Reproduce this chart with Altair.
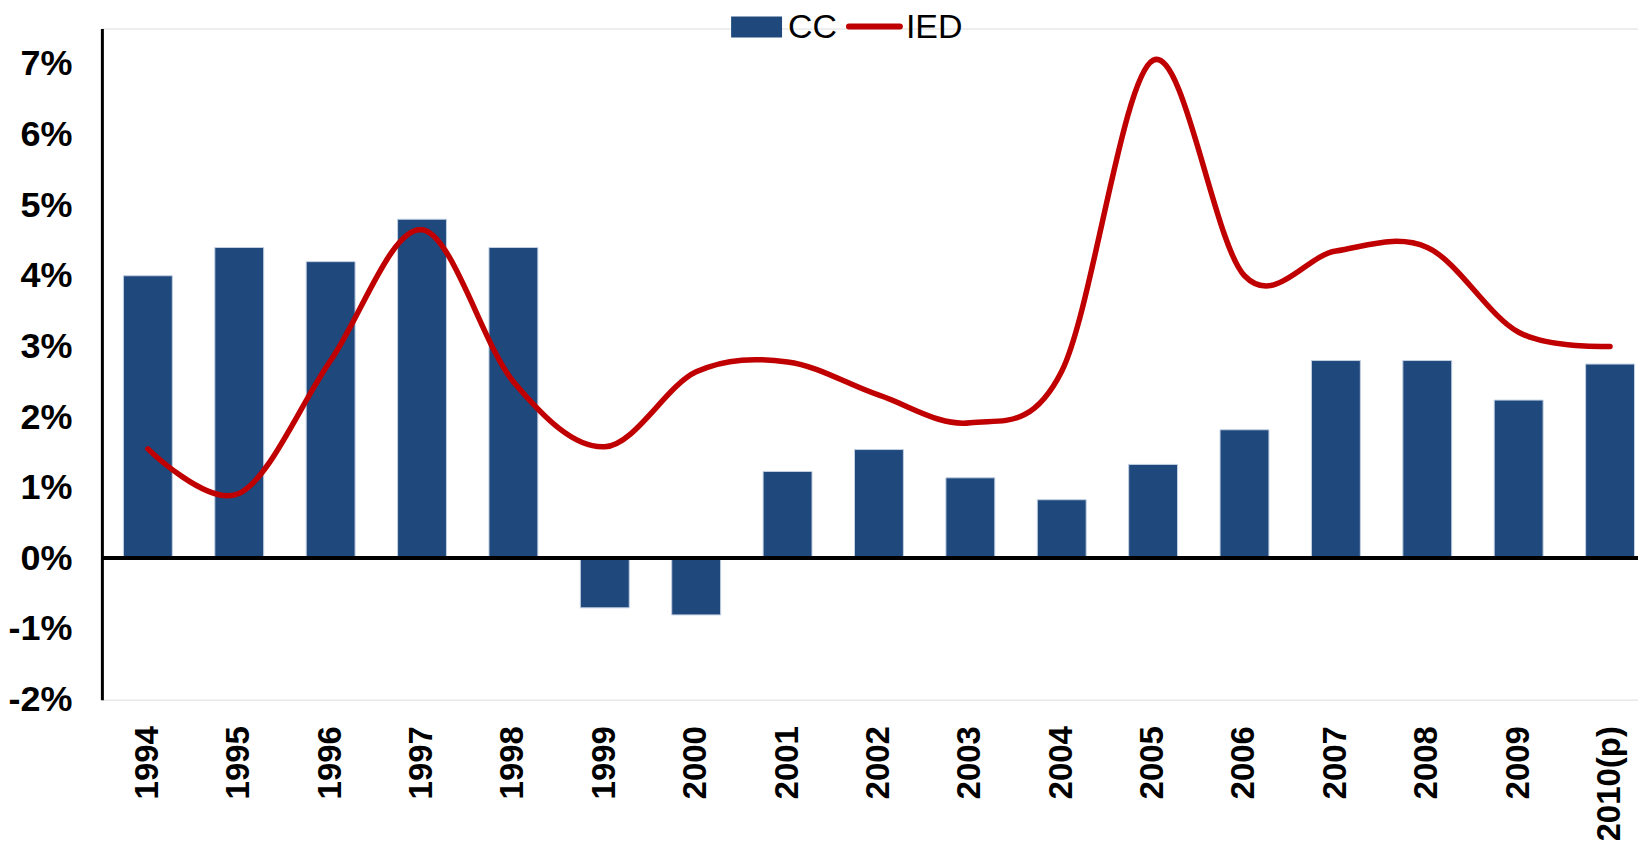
import altair as alt
import pandas as pd

years = ["1994", "1995", "1996", "1997", "1998", "1999", "2000", "2001", "2002",
         "2003", "2004", "2005", "2006", "2007", "2008", "2009", "2010(p)"]
cc = [4.0, 4.4, 4.2, 4.8, 4.4, -0.7, -0.8, 1.23, 1.54, 1.14, 0.83, 1.33, 1.82,
      2.8, 2.8, 2.24, 2.75]
ied = [1.55, 0.92, 2.8, 4.65, 2.5, 1.58, 2.64, 2.78, 2.31, 1.92, 2.65, 7.05,
       4.0, 4.35, 4.4, 3.2, 3.0]
y_ticks = [-2, -1, 0, 1, 2, 3, 4, 5, 6, 7]

df = pd.DataFrame({"year": years, "CC": cc, "IED": ied})

FONT = "Liberation Sans Narrow, Liberation Sans, Arial, sans-serif"
BLUE = "#1F497D"
RED = "#C00000"

x_enc = alt.X(
    "year:N",
    sort=years,
    scale=alt.Scale(paddingInner=0.465, paddingOuter=0.137, align=0.86),
    axis=alt.Axis(
        title=None, labelAngle=-90, domain=False, ticks=False, tickSize=0,
        labelPadding=26, labelFont=FONT, labelFontSize=33,
        labelFontWeight="bold", labelColor="black",
    ),
)
y_scale = alt.Scale(domain=[-2, 7.5], nice=False, zero=False)
y_axis = alt.Axis(
    title=None, values=y_ticks, labelExpr="datum.value + '%'", grid=False,
    ticks=False, tickSize=0, labelPadding=30, domainColor="black",
    domainWidth=3, labelFont=FONT, labelFontSize=36, labelFontWeight="bold",
    labelColor="black",
)

base = alt.Chart(df)

bars = base.mark_bar(color=BLUE, stroke="#c3d0e2", strokeWidth=1).encode(
    x=x_enc,
    y=alt.Y("CC:Q", scale=y_scale, axis=y_axis),
)

zero = base.mark_rule(color="black", strokeWidth=3).encode(
    y=alt.datum(0)
)

line = base.mark_line(
    color=RED, strokeWidth=5.5, interpolate="cardinal", strokeCap="round"
).encode(
    x=alt.X("year:N", sort=years),
    y=alt.Y("IED:Q"),
)

dummy = alt.Data(values=[{"k": 1}])
leg_rect = alt.Chart(dummy).mark_rect(color=BLUE).encode(
    x=alt.value(630), x2=alt.value(681), y=alt.value(-12), y2=alt.value(9)
)
leg_cc = alt.Chart(dummy).mark_text(
    text="CC", font=FONT, fontSize=34, align="left", baseline="middle",
    color="black"
).encode(x=alt.value(687), y=alt.value(0))
leg_line = alt.Chart(dummy).mark_rule(
    color=RED, strokeWidth=6, strokeCap="round"
).encode(x=alt.value(748), x2=alt.value(799), y=alt.value(-2))
leg_ied = alt.Chart(dummy).mark_text(
    text="IED", font=FONT, fontSize=34, align="left", baseline="middle",
    color="black"
).encode(x=alt.value(805), y=alt.value(0))

chart = alt.layer(bars, zero, line, leg_rect, leg_cc, leg_line, leg_ied).properties(
    width=1538,
    height=672,
    autosize=alt.AutoSizeParams(type="none"),
    padding={"left": 94, "top": 20, "right": 0, "bottom": 140},
).configure_view(stroke=None).configure(background="white")

chart.save("out.html", embed_options={"renderer": "svg", "actions": False})
